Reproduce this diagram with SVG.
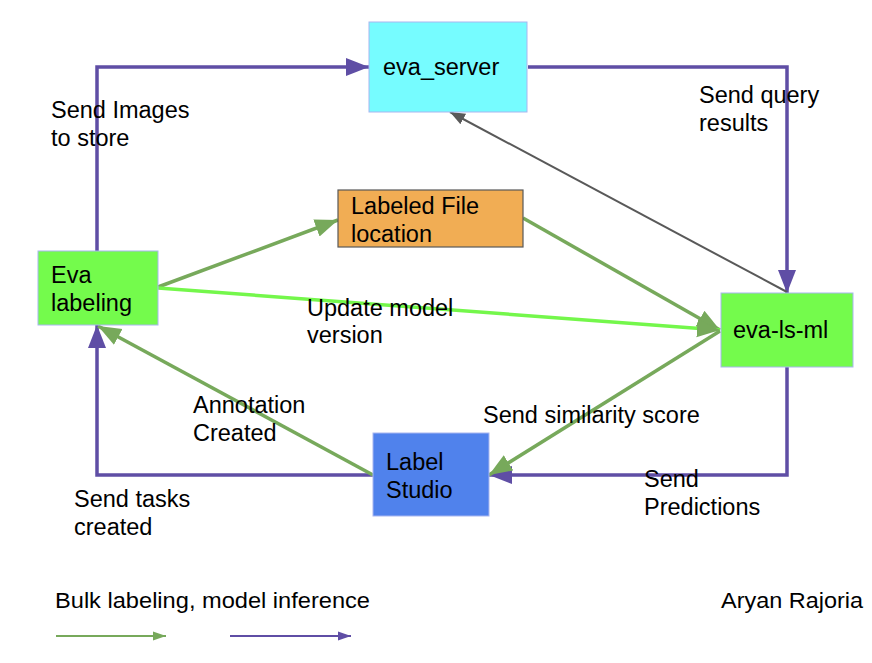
<svg xmlns="http://www.w3.org/2000/svg" width="872" height="663" viewBox="0 0 872 663">
<style>
text{font-family:"Liberation Sans",Arial,sans-serif;font-size:23.5px;fill:#000}
.node{stroke:#a8b6f0;stroke-width:1}
.p{fill:none;stroke:#5f4ea5;stroke-width:3.5}
.g{fill:none;stroke:#77a95b;stroke-width:3.5}
.bg{fill:none;stroke:#74f74b;stroke-width:3.5}
.gr{fill:none;stroke:#595959;stroke-width:2}
</style>
<defs>
<marker id="ap" markerUnits="userSpaceOnUse" markerWidth="24" markerHeight="20" refX="23" refY="10" orient="auto"><path d="M0,1 L23,10 L0,19 z" fill="#5f4ea5"/></marker>
<marker id="ag" markerUnits="userSpaceOnUse" markerWidth="24" markerHeight="20" refX="23" refY="10" orient="auto"><path d="M0,1 L23,10 L0,19 z" fill="#77a95b"/></marker>
<marker id="agr" markerUnits="userSpaceOnUse" markerWidth="16" markerHeight="14" refX="15" refY="7" orient="auto"><path d="M0,1 L15,7 L0,13 z" fill="#595959"/></marker>
<marker id="lg" markerUnits="userSpaceOnUse" markerWidth="14" markerHeight="10" refX="13" refY="5" orient="auto"><path d="M0,0.5 L13,5 L0,9.5 z" fill="#77a95b"/></marker>
<marker id="lp" markerUnits="userSpaceOnUse" markerWidth="14" markerHeight="10" refX="13" refY="5" orient="auto"><path d="M0,0.5 L13,5 L0,9.5 z" fill="#5f4ea5"/></marker>
</defs>
<g id="connectors">
<path class="p" d="M97,251 V67 H369" marker-end="url(#ap)"/>
<path class="p" d="M528,67 H787 V293" marker-end="url(#ap)"/>
<path class="p" d="M787,367 V475 H489" marker-end="url(#ap)"/>
<path class="p" d="M373,475 H97 V325" marker-end="url(#ap)"/>
<path class="gr" d="M787,292 L450,112" marker-end="url(#agr)"/>
<path class="g" d="M158,287 L338,220" marker-end="url(#ag)"/>
<path class="g" d="M523,218 L720,330" marker-end="url(#ag)"/>
<path class="bg" d="M158,288 L720,330" marker-end="url(#ag)"/>
<path class="g" d="M720,331 L489,475" marker-end="url(#ag)"/>
<path class="g" d="M373,475 L98,326" marker-end="url(#ag)"/>
<path fill="none" stroke="#77a95b" stroke-width="2" d="M56,636 H166" marker-end="url(#lg)"/>
<path fill="none" stroke="#5f4ea5" stroke-width="2" d="M230,636 H351" marker-end="url(#lp)"/>
</g>
<g id="eva_server">
<rect class="node" x="369" y="22" width="158" height="90" fill="#76fcff"/>
<text x="383" y="75">eva_server</text>
</g>
<g id="labeled_file">
<rect x="338" y="190" width="185" height="57" fill="#f1ad54" stroke="#595959" stroke-width="1.2"/>
<text x="351" y="214">Labeled File</text>
<text x="351" y="242">location</text>
</g>
<g id="eva_labeling">
<rect class="node" x="38" y="251" width="120" height="74" fill="#74fb4c"/>
<text x="51" y="283">Eva</text>
<text x="51" y="311">labeling</text>
</g>
<g id="eva_ls_ml">
<rect class="node" x="721" y="293" width="132" height="74" fill="#74fb4c"/>
<text x="733" y="338">eva-ls-ml</text>
</g>
<g id="label_studio">
<rect class="node" x="373" y="433" width="116" height="83" fill="#5082ec"/>
<text x="386" y="470">Label</text>
<text x="386" y="498">Studio</text>
</g>
<g id="labels">
<text x="51" y="118">Send Images</text>
<text x="51" y="146">to store</text>
<text x="699" y="103">Send query</text>
<text x="699" y="131">results</text>
<text x="307" y="316">Update model</text>
<text x="307" y="343">version</text>
<text x="193" y="413">Annotation</text>
<text x="193" y="441">Created</text>
<text x="483" y="423">Send similarity score</text>
<text x="74" y="507">Send tasks</text>
<text x="74" y="535">created</text>
<text x="644" y="487">Send</text>
<text x="644" y="515">Predictions</text>
<text x="55" y="608" style="font-size:22px" textLength="315" lengthAdjust="spacingAndGlyphs">Bulk labeling, model inference</text>
<text x="721" y="608" style="font-size:22px" textLength="142" lengthAdjust="spacingAndGlyphs">Aryan Rajoria</text>
</g>
</svg>
